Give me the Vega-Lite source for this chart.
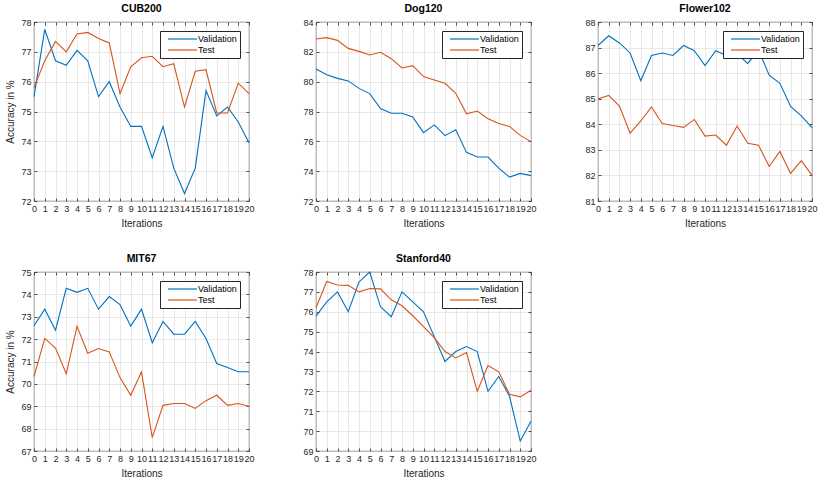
{
  "$schema": "https://vega.github.io/schema/vega-lite/v6.json",
  "padding": {"left": 5, "top": 3, "right": 5, "bottom": 5},
  "background": "white",
  "datasets": {
    "cub": [
      {"i":0,"s":"Validation","v":75.5},{"i":1,"s":"Validation","v":77.75},{"i":2,"s":"Validation","v":76.7},{"i":3,"s":"Validation","v":76.55},{"i":4,"s":"Validation","v":77.05},{"i":5,"s":"Validation","v":76.7},{"i":6,"s":"Validation","v":75.5},{"i":7,"s":"Validation","v":76.0},{"i":8,"s":"Validation","v":75.15},{"i":9,"s":"Validation","v":74.5},{"i":10,"s":"Validation","v":74.5},{"i":11,"s":"Validation","v":73.45},{"i":12,"s":"Validation","v":74.5},{"i":13,"s":"Validation","v":73.1},{"i":14,"s":"Validation","v":72.25},{"i":15,"s":"Validation","v":73.1},{"i":16,"s":"Validation","v":75.7},{"i":17,"s":"Validation","v":74.85},{"i":18,"s":"Validation","v":75.15},{"i":19,"s":"Validation","v":74.65},{"i":20,"s":"Validation","v":73.95},
      {"i":0,"s":"Test","v":75.8},{"i":1,"s":"Test","v":76.7},{"i":2,"s":"Test","v":77.35},{"i":3,"s":"Test","v":77.0},{"i":4,"s":"Test","v":77.6},{"i":5,"s":"Test","v":77.65},{"i":6,"s":"Test","v":77.45},{"i":7,"s":"Test","v":77.3},{"i":8,"s":"Test","v":75.6},{"i":9,"s":"Test","v":76.5},{"i":10,"s":"Test","v":76.8},{"i":11,"s":"Test","v":76.85},{"i":12,"s":"Test","v":76.5},{"i":13,"s":"Test","v":76.6},{"i":14,"s":"Test","v":75.15},{"i":15,"s":"Test","v":76.35},{"i":16,"s":"Test","v":76.4},{"i":17,"s":"Test","v":74.95},{"i":18,"s":"Test","v":74.95},{"i":19,"s":"Test","v":75.95},{"i":20,"s":"Test","v":75.6}
    ],
    "dog": [
      {"i":0,"s":"Validation","v":80.85},{"i":1,"s":"Validation","v":80.47},{"i":2,"s":"Validation","v":80.22},{"i":3,"s":"Validation","v":80.05},{"i":4,"s":"Validation","v":79.55},{"i":5,"s":"Validation","v":79.2},{"i":6,"s":"Validation","v":78.2},{"i":7,"s":"Validation","v":77.88},{"i":8,"s":"Validation","v":77.88},{"i":9,"s":"Validation","v":77.63},{"i":10,"s":"Validation","v":76.58},{"i":11,"s":"Validation","v":77.1},{"i":12,"s":"Validation","v":76.38},{"i":13,"s":"Validation","v":76.78},{"i":14,"s":"Validation","v":75.26},{"i":15,"s":"Validation","v":74.95},{"i":16,"s":"Validation","v":74.95},{"i":17,"s":"Validation","v":74.2},{"i":18,"s":"Validation","v":73.6},{"i":19,"s":"Validation","v":73.85},{"i":20,"s":"Validation","v":73.7},
      {"i":0,"s":"Test","v":82.86},{"i":1,"s":"Test","v":82.95},{"i":2,"s":"Test","v":82.77},{"i":3,"s":"Test","v":82.23},{"i":4,"s":"Test","v":82.03},{"i":5,"s":"Test","v":81.79},{"i":6,"s":"Test","v":81.97},{"i":7,"s":"Test","v":81.54},{"i":8,"s":"Test","v":80.92},{"i":9,"s":"Test","v":81.07},{"i":10,"s":"Test","v":80.34},{"i":11,"s":"Test","v":80.11},{"i":12,"s":"Test","v":79.89},{"i":13,"s":"Test","v":79.22},{"i":14,"s":"Test","v":77.85},{"i":15,"s":"Test","v":78.03},{"i":16,"s":"Test","v":77.52},{"i":17,"s":"Test","v":77.2},{"i":18,"s":"Test","v":77.0},{"i":19,"s":"Test","v":76.4},{"i":20,"s":"Test","v":75.98}
    ],
    "flower": [
      {"i":0,"s":"Validation","v":87.08},{"i":1,"s":"Validation","v":87.46},{"i":2,"s":"Validation","v":87.18},{"i":3,"s":"Validation","v":86.79},{"i":4,"s":"Validation","v":85.7},{"i":5,"s":"Validation","v":86.69},{"i":6,"s":"Validation","v":86.79},{"i":7,"s":"Validation","v":86.69},{"i":8,"s":"Validation","v":87.08},{"i":9,"s":"Validation","v":86.88},{"i":10,"s":"Validation","v":86.3},{"i":11,"s":"Validation","v":86.88},{"i":12,"s":"Validation","v":86.69},{"i":13,"s":"Validation","v":86.75},{"i":14,"s":"Validation","v":86.38},{"i":15,"s":"Validation","v":86.9},{"i":16,"s":"Validation","v":85.92},{"i":17,"s":"Validation","v":85.6},{"i":18,"s":"Validation","v":84.7},{"i":19,"s":"Validation","v":84.33},{"i":20,"s":"Validation","v":83.87},
      {"i":0,"s":"Test","v":84.99},{"i":1,"s":"Test","v":85.13},{"i":2,"s":"Test","v":84.71},{"i":3,"s":"Test","v":83.65},{"i":4,"s":"Test","v":84.13},{"i":5,"s":"Test","v":84.68},{"i":6,"s":"Test","v":84.03},{"i":7,"s":"Test","v":83.95},{"i":8,"s":"Test","v":83.88},{"i":9,"s":"Test","v":84.19},{"i":10,"s":"Test","v":83.54},{"i":11,"s":"Test","v":83.58},{"i":12,"s":"Test","v":83.18},{"i":13,"s":"Test","v":83.93},{"i":14,"s":"Test","v":83.26},{"i":15,"s":"Test","v":83.18},{"i":16,"s":"Test","v":82.35},{"i":17,"s":"Test","v":82.94},{"i":18,"s":"Test","v":82.08},{"i":19,"s":"Test","v":82.58},{"i":20,"s":"Test","v":82.0}
    ],
    "mit": [
      {"i":0,"s":"Validation","v":72.6},{"i":1,"s":"Validation","v":73.34},{"i":2,"s":"Validation","v":72.4},{"i":3,"s":"Validation","v":74.27},{"i":4,"s":"Validation","v":74.09},{"i":5,"s":"Validation","v":74.27},{"i":6,"s":"Validation","v":73.34},{"i":7,"s":"Validation","v":73.9},{"i":8,"s":"Validation","v":73.54},{"i":9,"s":"Validation","v":72.58},{"i":10,"s":"Validation","v":73.34},{"i":11,"s":"Validation","v":71.84},{"i":12,"s":"Validation","v":72.79},{"i":13,"s":"Validation","v":72.22},{"i":14,"s":"Validation","v":72.22},{"i":15,"s":"Validation","v":72.79},{"i":16,"s":"Validation","v":72.03},{"i":17,"s":"Validation","v":70.91},{"i":18,"s":"Validation","v":70.73},{"i":19,"s":"Validation","v":70.54},{"i":20,"s":"Validation","v":70.54},
      {"i":0,"s":"Test","v":70.33},{"i":1,"s":"Test","v":72.03},{"i":2,"s":"Test","v":71.6},{"i":3,"s":"Test","v":70.45},{"i":4,"s":"Test","v":72.57},{"i":5,"s":"Test","v":71.37},{"i":6,"s":"Test","v":71.58},{"i":7,"s":"Test","v":71.43},{"i":8,"s":"Test","v":70.28},{"i":9,"s":"Test","v":69.49},{"i":10,"s":"Test","v":70.54},{"i":11,"s":"Test","v":67.6},{"i":12,"s":"Test","v":69.04},{"i":13,"s":"Test","v":69.12},{"i":14,"s":"Test","v":69.12},{"i":15,"s":"Test","v":68.9},{"i":16,"s":"Test","v":69.25},{"i":17,"s":"Test","v":69.49},{"i":18,"s":"Test","v":69.04},{"i":19,"s":"Test","v":69.12},{"i":20,"s":"Test","v":69.0}
    ],
    "stanford": [
      {"i":0,"s":"Validation","v":75.78},{"i":1,"s":"Validation","v":76.5},{"i":2,"s":"Validation","v":77.0},{"i":3,"s":"Validation","v":76.0},{"i":4,"s":"Validation","v":77.5},{"i":5,"s":"Validation","v":78.0},{"i":6,"s":"Validation","v":76.25},{"i":7,"s":"Validation","v":75.75},{"i":8,"s":"Validation","v":77.0},{"i":9,"s":"Validation","v":76.5},{"i":10,"s":"Validation","v":76.0},{"i":11,"s":"Validation","v":74.75},{"i":12,"s":"Validation","v":73.5},{"i":13,"s":"Validation","v":74.0},{"i":14,"s":"Validation","v":74.25},{"i":15,"s":"Validation","v":74.0},{"i":16,"s":"Validation","v":72.0},{"i":17,"s":"Validation","v":72.75},{"i":18,"s":"Validation","v":71.75},{"i":19,"s":"Validation","v":69.5},{"i":20,"s":"Validation","v":70.5},
      {"i":0,"s":"Test","v":76.2},{"i":1,"s":"Test","v":77.52},{"i":2,"s":"Test","v":77.35},{"i":3,"s":"Test","v":77.33},{"i":4,"s":"Test","v":77.0},{"i":5,"s":"Test","v":77.17},{"i":6,"s":"Test","v":77.15},{"i":7,"s":"Test","v":76.6},{"i":8,"s":"Test","v":76.3},{"i":9,"s":"Test","v":75.8},{"i":10,"s":"Test","v":75.25},{"i":11,"s":"Test","v":74.7},{"i":12,"s":"Test","v":74.0},{"i":13,"s":"Test","v":73.68},{"i":14,"s":"Test","v":73.95},{"i":15,"s":"Test","v":72.0},{"i":16,"s":"Test","v":73.3},{"i":17,"s":"Test","v":72.98},{"i":18,"s":"Test","v":71.85},{"i":19,"s":"Test","v":71.72},{"i":20,"s":"Test","v":72.05}
    ]
  },
  "columns": 3,
  "spacing": {"row": 71, "column": 67},
  "bounds": "flush",
  "concat": [
    {
      "title": "CUB200", "width": 215, "height": 179, "data": {"name": "cub"},
      "layer": [
        {"mark": {"type": "line", "strokeWidth": 1.1},
         "encoding": {
           "x": {"field": "i", "type": "quantitative", "scale": {"domain": [0, 20], "nice": false, "zero": false}, "axis": {"values": [0,1,2,3,4,5,6,7,8,9,10,11,12,13,14,15,16,17,18,19,20], "title": "Iterations"}},
           "y": {"field": "v", "type": "quantitative", "scale": {"domain": [72, 78], "nice": false, "zero": false}, "axis": {"values": [72,73,74,75,76,77,78], "title": "Accuracy in %"}},
           "color": {"field": "s", "type": "nominal", "scale": {"domain": ["Validation", "Test"], "range": ["#0072BD", "#D95319"]}, "legend": {"title": null}}
         }},
        {"mark": {"type": "point", "opacity": 0},
         "encoding": {
           "x": {"field": "i", "type": "quantitative", "axis": {"orient": "top", "labels": false, "grid": false, "title": null, "values": [0,1,2,3,4,5,6,7,8,9,10,11,12,13,14,15,16,17,18,19,20]}},
           "y": {"field": "v", "type": "quantitative", "axis": {"orient": "right", "labels": false, "grid": false, "title": null, "values": [72,73,74,75,76,77,78]}}
         }}
      ],
      "resolve": {"axis": {"x": "independent", "y": "independent"}}
    },
    {
      "title": "Dog120", "width": 215, "height": 179, "data": {"name": "dog"},
      "layer": [
        {"mark": {"type": "line", "strokeWidth": 1.1},
         "encoding": {
           "x": {"field": "i", "type": "quantitative", "scale": {"domain": [0, 20], "nice": false, "zero": false}, "axis": {"values": [0,1,2,3,4,5,6,7,8,9,10,11,12,13,14,15,16,17,18,19,20], "title": "Iterations"}},
           "y": {"field": "v", "type": "quantitative", "scale": {"domain": [72, 84], "nice": false, "zero": false}, "axis": {"values": [72,74,76,78,80,82,84], "title": null}},
           "color": {"field": "s", "type": "nominal", "scale": {"domain": ["Validation", "Test"], "range": ["#0072BD", "#D95319"]}, "legend": {"title": null}}
         }},
        {"mark": {"type": "point", "opacity": 0},
         "encoding": {
           "x": {"field": "i", "type": "quantitative", "axis": {"orient": "top", "labels": false, "grid": false, "title": null, "values": [0,1,2,3,4,5,6,7,8,9,10,11,12,13,14,15,16,17,18,19,20]}},
           "y": {"field": "v", "type": "quantitative", "axis": {"orient": "right", "labels": false, "grid": false, "title": null, "values": [72,74,76,78,80,82,84]}}
         }}
      ],
      "resolve": {"axis": {"x": "independent", "y": "independent"}}
    },
    {
      "title": "Flower102", "width": 214, "height": 179, "data": {"name": "flower"},
      "layer": [
        {"mark": {"type": "line", "strokeWidth": 1.1},
         "encoding": {
           "x": {"field": "i", "type": "quantitative", "scale": {"domain": [0, 20], "nice": false, "zero": false}, "axis": {"values": [0,1,2,3,4,5,6,7,8,9,10,11,12,13,14,15,16,17,18,19,20], "title": "Iterations"}},
           "y": {"field": "v", "type": "quantitative", "scale": {"domain": [81, 88], "nice": false, "zero": false}, "axis": {"values": [81,82,83,84,85,86,87,88], "title": null}},
           "color": {"field": "s", "type": "nominal", "scale": {"domain": ["Validation", "Test"], "range": ["#0072BD", "#D95319"]}, "legend": {"title": null}}
         }},
        {"mark": {"type": "point", "opacity": 0},
         "encoding": {
           "x": {"field": "i", "type": "quantitative", "axis": {"orient": "top", "labels": false, "grid": false, "title": null, "values": [0,1,2,3,4,5,6,7,8,9,10,11,12,13,14,15,16,17,18,19,20]}},
           "y": {"field": "v", "type": "quantitative", "axis": {"orient": "right", "labels": false, "grid": false, "title": null, "values": [81,82,83,84,85,86,87,88]}}
         }}
      ],
      "resolve": {"axis": {"x": "independent", "y": "independent"}}
    },
    {
      "title": "MIT67", "width": 215, "height": 179, "data": {"name": "mit"},
      "layer": [
        {"mark": {"type": "line", "strokeWidth": 1.1},
         "encoding": {
           "x": {"field": "i", "type": "quantitative", "scale": {"domain": [0, 20], "nice": false, "zero": false}, "axis": {"values": [0,1,2,3,4,5,6,7,8,9,10,11,12,13,14,15,16,17,18,19,20], "title": "Iterations"}},
           "y": {"field": "v", "type": "quantitative", "scale": {"domain": [67, 75], "nice": false, "zero": false}, "axis": {"values": [67,68,69,70,71,72,73,74,75], "title": "Accuracy in %"}},
           "color": {"field": "s", "type": "nominal", "scale": {"domain": ["Validation", "Test"], "range": ["#0072BD", "#D95319"]}, "legend": {"title": null}}
         }},
        {"mark": {"type": "point", "opacity": 0},
         "encoding": {
           "x": {"field": "i", "type": "quantitative", "axis": {"orient": "top", "labels": false, "grid": false, "title": null, "values": [0,1,2,3,4,5,6,7,8,9,10,11,12,13,14,15,16,17,18,19,20]}},
           "y": {"field": "v", "type": "quantitative", "axis": {"orient": "right", "labels": false, "grid": false, "title": null, "values": [67,68,69,70,71,72,73,74,75]}}
         }}
      ],
      "resolve": {"axis": {"x": "independent", "y": "independent"}}
    },
    {
      "title": "Stanford40", "width": 215, "height": 179, "data": {"name": "stanford"},
      "layer": [
        {"mark": {"type": "line", "strokeWidth": 1.1},
         "encoding": {
           "x": {"field": "i", "type": "quantitative", "scale": {"domain": [0, 20], "nice": false, "zero": false}, "axis": {"values": [0,1,2,3,4,5,6,7,8,9,10,11,12,13,14,15,16,17,18,19,20], "title": "Iterations"}},
           "y": {"field": "v", "type": "quantitative", "scale": {"domain": [69, 78], "nice": false, "zero": false}, "axis": {"values": [69,70,71,72,73,74,75,76,77,78], "title": null}},
           "color": {"field": "s", "type": "nominal", "scale": {"domain": ["Validation", "Test"], "range": ["#0072BD", "#D95319"]}, "legend": {"title": null}}
         }},
        {"mark": {"type": "point", "opacity": 0},
         "encoding": {
           "x": {"field": "i", "type": "quantitative", "axis": {"orient": "top", "labels": false, "grid": false, "title": null, "values": [0,1,2,3,4,5,6,7,8,9,10,11,12,13,14,15,16,17,18,19,20]}},
           "y": {"field": "v", "type": "quantitative", "axis": {"orient": "right", "labels": false, "grid": false, "title": null, "values": [69,70,71,72,73,74,75,76,77,78]}}
         }}
      ],
      "resolve": {"axis": {"x": "independent", "y": "independent"}}
    }
  ],
  "resolve": {"scale": {"color": "independent"}, "legend": {"color": "independent"}},
  "config": {
    "font": "Liberation Sans",
    "view": {"stroke": "#262626", "strokeWidth": 0.8},
    "axis": {
      "domain": false,
      "tickSize": -3,
      "tickColor": "#262626",
      "tickWidth": 0.8,
      "labelColor": "#262626",
      "labelFontSize": 9,
      "labelPadding": 6,
      "labelOverlap": false,
      "labelFlush": false,
      "titleFontSize": 10,
      "titleFontWeight": "normal",
      "titleColor": "#262626",
      "titlePadding": 5,
      "gridColor": "#dedede",
      "gridWidth": 0.7
    },
    "title": {"fontSize": 10.5, "fontWeight": "bold", "color": "#000000", "offset": 4},
    "legend": {
      "orient": "top-right",
      "offset": 9,
      "strokeColor": "#262626",
      "fillColor": "white",
      "padding": 3,
      "symbolType": "M0,0H7.25",
      "symbolSize": 64,
      "symbolStrokeWidth": 1.2,
      "labelFontSize": 9,
      "labelColor": "#000000",
      "labelOffset": 25,
      "rowPadding": 1
    }
  }
}
